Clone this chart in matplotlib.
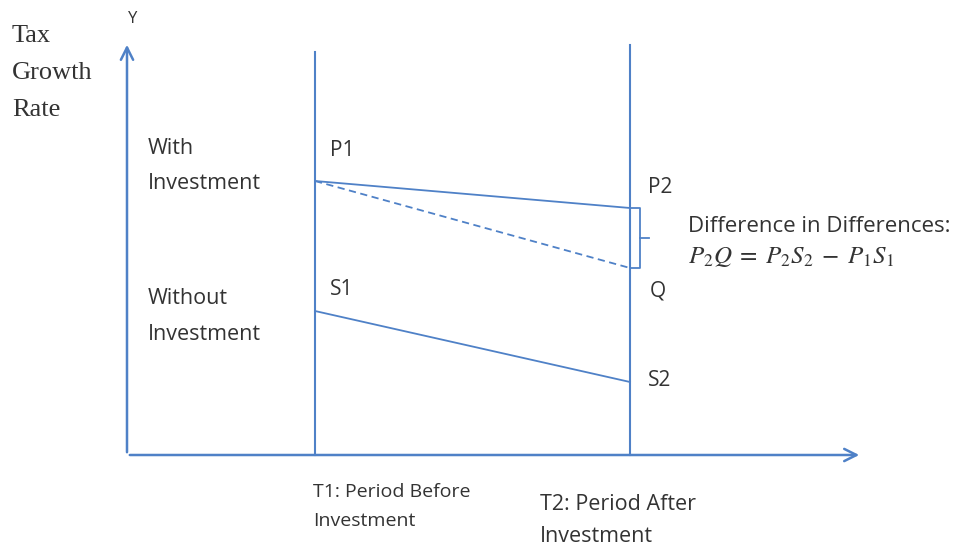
import matplotlib
matplotlib.use("Agg")
import matplotlib.pyplot as plt

# ---- data (diagram units; origin at axis crossing) ----
periods = [1.88, 5.03]            # T1, T2 horizontal positions
with_inv = [2.74, 2.47]           # P1, P2
without_inv = [1.44, 0.73]        # S1, S2
counterfactual = [2.74, 1.87]     # P1 -> Q
point_labels_with = ["P1", "P2"]
point_labels_without = ["S1", "S2"]
period_labels = [["T1: Period Before", "Investment"], ["T2: Period After", "Investment"]]

BLUE = "#4f81c7"
TXT = "#333333"
SANS = ["Open Sans", "DejaVu Sans"]

fig = plt.figure(figsize=(9.6, 5.48), dpi=100)
ax = fig.add_axes([0, 0, 1, 1])
ax.set_xlim(-1.27, 8.33)
ax.set_ylim(-0.93, 4.55)
ax.axis("off")

# axes arrows
ax.annotate("", xy=(0, 4.13), xytext=(0, 0),
            arrowprops=dict(arrowstyle="->", color=BLUE, lw=1.8, mutation_scale=22))
ax.annotate("", xy=(7.35, 0), xytext=(0, 0),
            arrowprops=dict(arrowstyle="->", color=BLUE, lw=1.8, mutation_scale=22))

# vertical period lines
ax.plot([periods[0]] * 2, [0, 4.03], color=BLUE, lw=1.5)
ax.plot([periods[1]] * 2, [0, 4.10], color=BLUE, lw=1.5)

# lines
ax.plot(periods, with_inv, color=BLUE, lw=1.3)
ax.plot(periods, without_inv, color=BLUE, lw=1.3)
ax.plot(periods, counterfactual, color=BLUE, lw=1.3, ls=(0, (4, 2.5)))

# brace between P2 and Q
bx = periods[1]
top, bot = with_inv[1], counterfactual[1]
mid = (top + bot) / 2
ax.plot([bx, bx + 0.10, bx + 0.10, bx], [top, top, bot, bot], color=BLUE, lw=1.3)
ax.plot([bx + 0.10, bx + 0.19], [mid, mid], color=BLUE, lw=1.3)


def lines(x, ys, texts, **kw):
    for y, t in zip(ys, texts):
        ax.text(x, y, t, va="center", ha="left", color=TXT, **kw)


# text
lines(-1.15, [4.19, 3.82, 3.45], ["Tax", "Growth", "Rate"],
      family=["Liberation Serif"], fontsize=19)
ax.text(0.06, 4.36, "Y", family=SANS, fontsize=12, color=TXT, ha="center", va="center")

lines(0.21, [3.07, 2.71], ["With", "Investment"], family=SANS, fontsize=15.5)
lines(0.21, [1.56, 1.20], ["Without", "Investment"], family=SANS, fontsize=15.5)

ax.text(periods[0] + 0.15, with_inv[0] + 0.30, point_labels_with[0], family=SANS,
        fontsize=15, color=TXT, va="center")
ax.text(periods[1] + 0.18, with_inv[1] + 0.20, point_labels_with[1], family=SANS,
        fontsize=15, color=TXT, va="center")
ax.text(periods[1] + 0.20, counterfactual[1] - 0.23, "Q", family=SANS,
        fontsize=15, color=TXT, va="center")
ax.text(periods[0] + 0.15, without_inv[0] + 0.21, point_labels_without[0], family=SANS,
        fontsize=15, color=TXT, va="center")
ax.text(periods[1] + 0.18, without_inv[1] + 0.01, point_labels_without[1], family=SANS,
        fontsize=15, color=TXT, va="center")

ax.text(5.61, 2.28, "Difference in Differences:", family=SANS, fontsize=16,
        color=TXT, va="center")
ax.text(5.61, 1.98, r"$P_2Q\;=\;P_2S_2\;-\;P_1S_1$", fontsize=18, color=TXT,
        va="center", math_fontfamily="stix")

lines(periods[0] - 0.02, [-0.37, -0.66], period_labels[0], family=SANS, fontsize=14)
lines(4.13, [-0.50, -0.81], period_labels[1], family=SANS, fontsize=15.5)

fig.savefig("out.png", dpi=100)
